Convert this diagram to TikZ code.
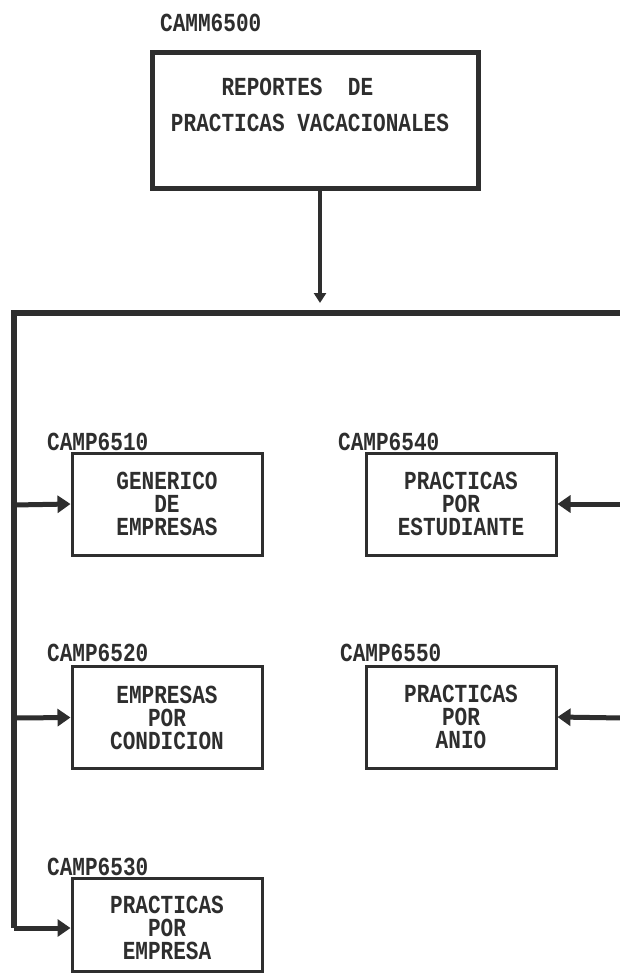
\documentclass[tikz,border=0pt]{standalone}
\usepackage{fontspec}
\newfontfamily\dotfont{Liberation Mono}[FakeStretch=0.81]
\usetikzlibrary{arrows.meta}
\definecolor{ink}{HTML}{2E2E2E}
\begin{document}
\begin{tikzpicture}[x=1pt,y=-1pt,
  txt/.style={font=\dotfont\bfseries\fontsize{26}{23}\selectfont, text=ink, inner sep=0pt, align=center},
  lbl/.style={font=\dotfont\bfseries\fontsize{26}{23}\selectfont, text=ink, inner sep=0pt, anchor=west},
  topbox/.style={draw=ink, line width=5pt, minimum width=326pt, minimum height=135pt, inner sep=0pt},
  prog/.style={draw=ink, line width=3pt, minimum width=190pt, minimum height=102pt, inner sep=0pt},
  bus/.style={draw=ink, line width=6pt, line join=miter},
  feed/.style={draw=ink, line width=5pt, -{Triangle[length=13pt,width=17pt]}},
  drop/.style={draw=ink, line width=4pt, -{Triangle[length=10pt,width=12pt]}}
]
\useasboundingbox[fill=white] (0,0) rectangle (620,974);

% top module
\node[topbox] (top) at (315,120.5) {};
\node[txt, align=left, font=\dotfont\bfseries\fontsize{26}{36}\selectfont] (toptext) at (310,105)
  {\hspace*{4\fontcharwd\font`M}REPORTES\ \ DE\\PRACTICAS VACACIONALES};
\node[lbl] (toplbl) at (160,23) {CAMM6500};

% sub modules
\node[prog] (p10) at (167,504) {};
\node[txt] (t10) at (p10) {GENERICO\\DE\\EMPRESAS};
\node[lbl] (l10) at (47,442) {CAMP6510};

\node[prog] (p40) at (461,504) {};
\node[txt] (t40) at (p40) {PRACTICAS\\POR\\ESTUDIANTE};
\node[lbl] (l40) at (338,442) {CAMP6540};

\node[prog] (p20) at (167,717.5) {};
\node[txt] (t20) at (p20) {EMPRESAS\\POR\\CONDICION};
\node[lbl] (l20) at (47,653) {CAMP6520};

\node[prog] (p50) at (461,717) {};
\node[txt] (t50) at (p50) {PRACTICAS\\POR\\ANIO};
\node[lbl] (l50) at (340,653) {CAMP6550};

\node[prog, minimum height=93pt] (p30) at (167,924.5) {};
\node[txt] (t30) at (167,928) {PRACTICAS\\POR\\EMPRESA};
\node[lbl] (l30) at (47,867) {CAMP6530};

% bus
\coordinate (busTop) at (320,303);
\coordinate (busL) at (14,313);
\coordinate (busR) at (623,313);
\coordinate (busBot) at (14,928);
\coordinate (r40) at (623,504);
\coordinate (r50) at (623,718);

\draw[drop] ([xshift=5pt]top.south) -- (busTop);
\draw[bus] (busR) -- (busL) -- (busBot);
\draw[feed] (14,505) -- (p10.west);
\draw[feed] (14,718) -- (p20.west);
\draw[feed] (busBot) -- (p30.west |- busBot);
\draw[feed] (r40) -- (p40.east);
\draw[feed] (r50) -- (p50.east);
\end{tikzpicture}
\end{document}
